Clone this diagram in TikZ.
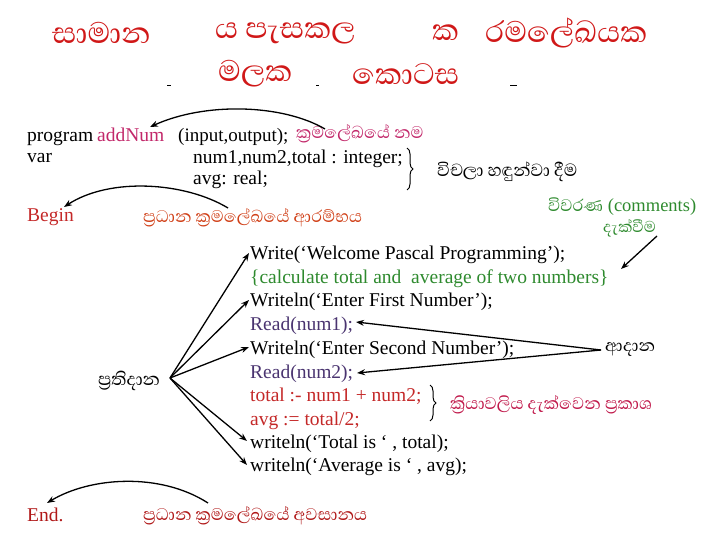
\documentclass[tikz,border=0pt]{standalone}
\usepackage{fontspec}
\setmainfont{Liberation Serif}
\newfontfamily\sinhfont[Script=Sinhala]{Abhaya Libre}
\usetikzlibrary{arrows.meta,decorations.pathreplacing}
\definecolor{titred}{HTML}{D01818}
\definecolor{magen}{HTML}{C2286A}
\definecolor{begred}{HTML}{C42828}
\definecolor{endred}{HTML}{B01818}
\definecolor{orred}{HTML}{D04018}
\definecolor{grn}{HTML}{2E8A2E}
\definecolor{purp}{HTML}{4A3470}
\definecolor{crim}{HTML}{C0184A}
\begin{document}
\begin{tikzpicture}[x=1pt,y=-1pt,
  code/.style={anchor=base west,inner sep=0pt,font=\fontsize{19.5}{19.5}\selectfont},
  sin/.style={anchor=west,inner sep=0pt,font=\sinhfont\fontsize{21.5}{21.5}\selectfont},
  ttl/.style={anchor=west,inner sep=0pt,text=titred,font=\sinhfont\fontsize{38}{38}\selectfont},
  arr/.style={-{Stealth[length=8pt,width=6pt]},line width=1.3pt},
  brc/.style={decorate,decoration={brace,amplitude=6pt},line width=1pt}]
\useasboundingbox (0,0) rectangle (720,540);
% title
\node[ttl] (t1) at (52,33) {සාමාන};
\node[ttl] (t2) at (215,33) {ය පැසකල};
\node[ttl] (t3) at (432,33) {ක};
\node[ttl] (t4) at (485,33) {රමලේඛයක};
\node[ttl] (t5) at (218,74) {මලක};
\node[ttl] (t6) at (352,74) {කොටස};
\draw[line width=1pt] (167,86) -- (171,86);
\draw[line width=1pt] (316,86) -- (319,86);
\draw[line width=1pt] (510,86) -- (517,86);
% header code
\node[code] (prog) at (27,142) {program};
\node[code,text=magen] (add) at (97,142) {addNum};
\node[code,font=\fontsize{19}{19}\selectfont] (io) at (178,142) {(input,output);};
\node[sin,text=magen] (lname) at (296,134) {ක්‍රමලේඛයේ නම};
\node[code] (var) at (27,163) {var};
\node[code] (v1) at (193,164) {num1,num2,total : integer;};
\node[code] (v2) at (193,185) {avg: real;};
\draw[brc] (407,148) -- (407,190);
\node[sin,font=\sinhfont\fontsize{22.5}{22.5}\selectfont] (lvar) at (437,172) {විචලා හඳුන්වා දීම};
\node[code,text=begred] (beg) at (27,222) {Begin};
\node[sin,text=orred] (lbeg) at (143,218) {ප්‍රධාන ක්‍රමලේඛයේ ආරම්භය};
\node[anchor=west,inner sep=0pt,text=grn,font=\fontsize{18.5}{18.5}\selectfont] (lcom) at (548,207) {{\sinhfont\fontsize{21.5}{21.5}\selectfont විවරණ} (comments)};
\node[sin,text=grn,font=\sinhfont\fontsize{20}{20}\selectfont] (lcom2) at (603,228) {දැක්වීම};
% body code
\node[code] (c1) at (250,259) {Write(‘Welcome Pascal Programming’);};
\node[code,text=grn] (c2) at (250,283) {\{calculate total and\ \ average of two numbers\}};
\node[code] (c3) at (250,306) {Writeln(‘Enter First Number’);};
\node[code,text=purp] (c4) at (250,330) {Read(num1);};
\node[code] (c5) at (250,354) {Writeln(‘Enter Second Number’);};
\node[code,text=purp] (c6) at (250,378) {Read(num2);};
\node[code,text=begred] (c7) at (250,401) {total :- num1 + num2;};
\node[code,text=begred] (c8) at (250,425) {avg := total/2;};
\node[code] (c9) at (250,448) {writeln(‘Total is ‘ , total);};
\node[code] (c10) at (250,471) {writeln(‘Average is ‘ , avg);};
\draw[brc] (430,385) -- (430,421);
\node[sin,text=crim] (lproc) at (450,405) {ක්‍රියාවලිය දැක්වෙන ප්‍රකාශ};
\node[sin] (lin) at (605,350) {ආදාන};
\node[sin,font=\sinhfont\fontsize{22.5}{22.5}\selectfont] (lout) at (98,381) {ප්‍රතිදාන};
\node[code,text=endred] (endn) at (27,521) {End.};
\node[sin,text=endred] (lend) at (143,516) {ප්‍රධාන ක්‍රමලේඛයේ අවසානය};
% connector endpoints
\coordinate (a1s) at (325,129);
\coordinate (a1e) at (150,127);
\coordinate (a2s) at (228,208);
\coordinate (a2e) at (64,207);
\coordinate (a3s) at (208,503);
\coordinate (a3e) at (47,503);
\coordinate (cs) at (657,236);
\coordinate (ce) at (621,269);
\coordinate (ins) at (601,350);
\coordinate (r1) at (356,322);
\coordinate (r2) at (357,373);
\coordinate (os) at (170,378);
\coordinate (o1) at (249,253);
\coordinate (o2) at (249,300);
\coordinate (o3) at (249,347);
\coordinate (o4) at (247,441);
\coordinate (o5) at (247,465);
% connectors
\draw[arr] (a1s) .. controls (282,104) and (205,102) .. (a1e);
\draw[arr] (a2s) .. controls (185,182) and (110,177) .. (a2e);
\draw[arr] (a3s) .. controls (160,472) and (90,477) .. (a3e);
\draw[arr] (cs) -- (ce);
\draw[arr] (ins) -- (r1);
\draw[arr] (ins) -- (r2);
\draw[arr] (os) -- (o1);
\draw[arr] (os) -- (o2);
\draw[arr] (os) -- (o3);
\draw[arr] (os) -- (o4);
\draw[arr] (os) -- (o5);
\end{tikzpicture}
\end{document}
